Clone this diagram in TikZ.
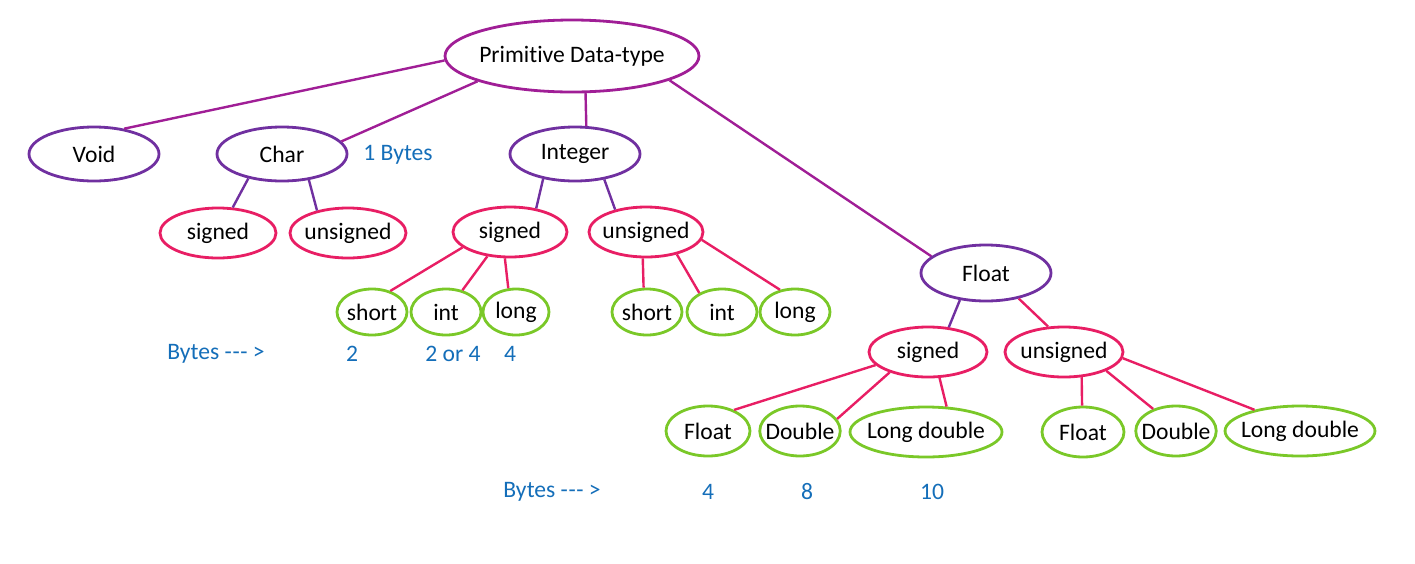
\documentclass[tikz,border=0pt]{standalone}
\usepackage{fontspec}
\setmainfont{Carlito}[Ligatures={NoCommon}]
\usepackage{xcolor}
\usetikzlibrary{shapes.geometric}

\definecolor{rootc}{RGB}{160,30,150}
\definecolor{typec}{RGB}{112,48,160}
\definecolor{signc}{RGB}{232,30,100}
\definecolor{leafc}{RGB}{122,200,40}
\definecolor{bytec}{RGB}{20,110,185}

\newcommand{\arrowtxt}{Bytes -\kern0.3pt-\kern0.3pt- \textgreater}

\begin{document}
\begin{tikzpicture}[
    x=0.5pt, y=-0.5pt,
    font=\fontsize{11.8}{14}\selectfont,
    oval/.style={ellipse, draw, line width=1.4pt, inner xsep=-3pt, inner ysep=0pt},
    root/.style={oval, draw=rootc, minimum width=127pt, minimum height=36pt},
    type/.style={oval, draw=typec, minimum width=65pt, minimum height=27pt},
    sign/.style={oval, draw=signc, minimum height=25pt},
    leaf/.style={oval, draw=leafc, minimum height=23pt},
    bytes/.style={text=bytec},
    edge/.style={line width=1.2pt}
]
    \useasboundingbox (0,0) rectangle (1415,563);

    % Root and main types
    \node[root] (pdt) at (572,56) {Primitive Data-type};
    \node[type] (void) at (94,154) {Void};
    \node[type] (char) at (282,154) {Char};
    \node[type] (integer) at (575,154) {Integer};
    \node[type, minimum height=28pt] (float) at (986,273) {Float};

    % Signed / unsigned
    \node[sign, minimum width=58pt] (csigned) at (218,233) {signed};
    \node[sign, minimum width=58pt] (cunsigned) at (348,233) {unsigned};
    \node[sign, minimum width=57pt] (isigned) at (510,232) {signed};
    \node[sign, minimum width=57pt] (iunsigned) at (646,232) {unsigned};
    \node[sign, minimum width=59pt] (fsigned) at (928,352) {signed};
    \node[sign, minimum width=59pt] (funsigned) at (1064,352) {unsigned};

    % Integer leaves
    \node[leaf, minimum width=35pt] (ishort) at (372,312) {short};
    \node[leaf, minimum width=35pt] (iint) at (446,312) {int};
    \node[leaf, minimum width=33pt] (ilong) at (516,312) {long};
    \node[leaf, minimum width=35pt] (ushort) at (647,312) {short};
    \node[leaf, minimum width=35pt] (uint) at (722,312) {int};
    \node[leaf, minimum width=35pt] (ulong) at (795,312) {long};

    % Float leaves
    \node[leaf, minimum width=42pt, minimum height=25pt] (sfloat) at (708,431) {Float};
    \node[leaf, minimum width=40pt, minimum height=25pt] (sdouble) at (800,431) {Double};
    \node[leaf, minimum width=76pt, minimum height=25pt] (sldouble) at (926,432) {Long double};
    \node[leaf, minimum width=41pt, minimum height=25pt] (ufloat) at (1083,432) {Float};
    \node[leaf, minimum width=39pt, minimum height=25pt] (udouble) at (1176,431) {Double};
    \node[leaf, minimum width=72pt, minimum height=25pt] (uldouble) at (1300,431) {Long double};

    % Byte sizes
    \node[bytes] (charbytes) at (398,155) {1 Bytes};
    \node[bytes] (ibytes) at (216,354) {\arrowtxt};
    \node[bytes] (ib1) at (352,354) {2};
    \node[bytes] (ib2) at (453,354) {2 or 4};
    \node[bytes] (ib3) at (510,354) {4};
    \node[bytes] (fbytes) at (552,492) {\arrowtxt};
    \node[bytes] (fb1) at (708,492) {4};
    \node[bytes] (fb2) at (807,492) {8};
    \node[bytes] (fb3) at (932,492) {10};

    % Edges from root
    \draw[edge, rootc] (pdt.182) -- (void.40);
    \draw[edge, rootc] (pdt.195) -- (char.12);
    \draw[edge, rootc] (pdt.290) -- (integer.68);
    \draw[edge, rootc] (pdt.346) -- (float.163);

    % Char and Integer
    \draw[edge, typec] (char.216) -- (csigned.60);
    \draw[edge, typec] (char.316) -- (cunsigned.144);
    \draw[edge, typec] (integer.218) -- (isigned.42);
    \draw[edge, typec] (integer.319) -- (iunsigned.144);

    % Float
    \draw[edge, typec] (float.226) -- (fsigned.50);
    \draw[edge, signc] (float.322) -- (funsigned.122);

    % Integer leaves
    \draw[edge, signc] (isigned.198) -- (ishort.49);
    \draw[edge, signc] (isigned.227) -- (iint.53);
    \draw[edge, signc] (isigned.259) -- (ilong.108);
    \draw[edge, signc] (iunsigned.263) -- (ushort.98);
    \draw[edge, signc] (iunsigned.324) -- (uint.140);
    \draw[edge, signc] (iunsigned.352) -- (ulong.124);

    % Float leaves
    \draw[edge, signc] (fsigned.194) -- (sfloat.39);
    \draw[edge, signc] (fsigned.208) -- (sdouble.18);
    \draw[edge, signc] (fsigned.294) -- (sldouble.51);
    \draw[edge, signc] (funsigned.305) -- (ufloat.92);
    \draw[edge, signc] (funsigned.336) -- (udouble.136);
    \draw[edge, signc] (funsigned.354) -- (uldouble.155);
\end{tikzpicture}
\end{document}
